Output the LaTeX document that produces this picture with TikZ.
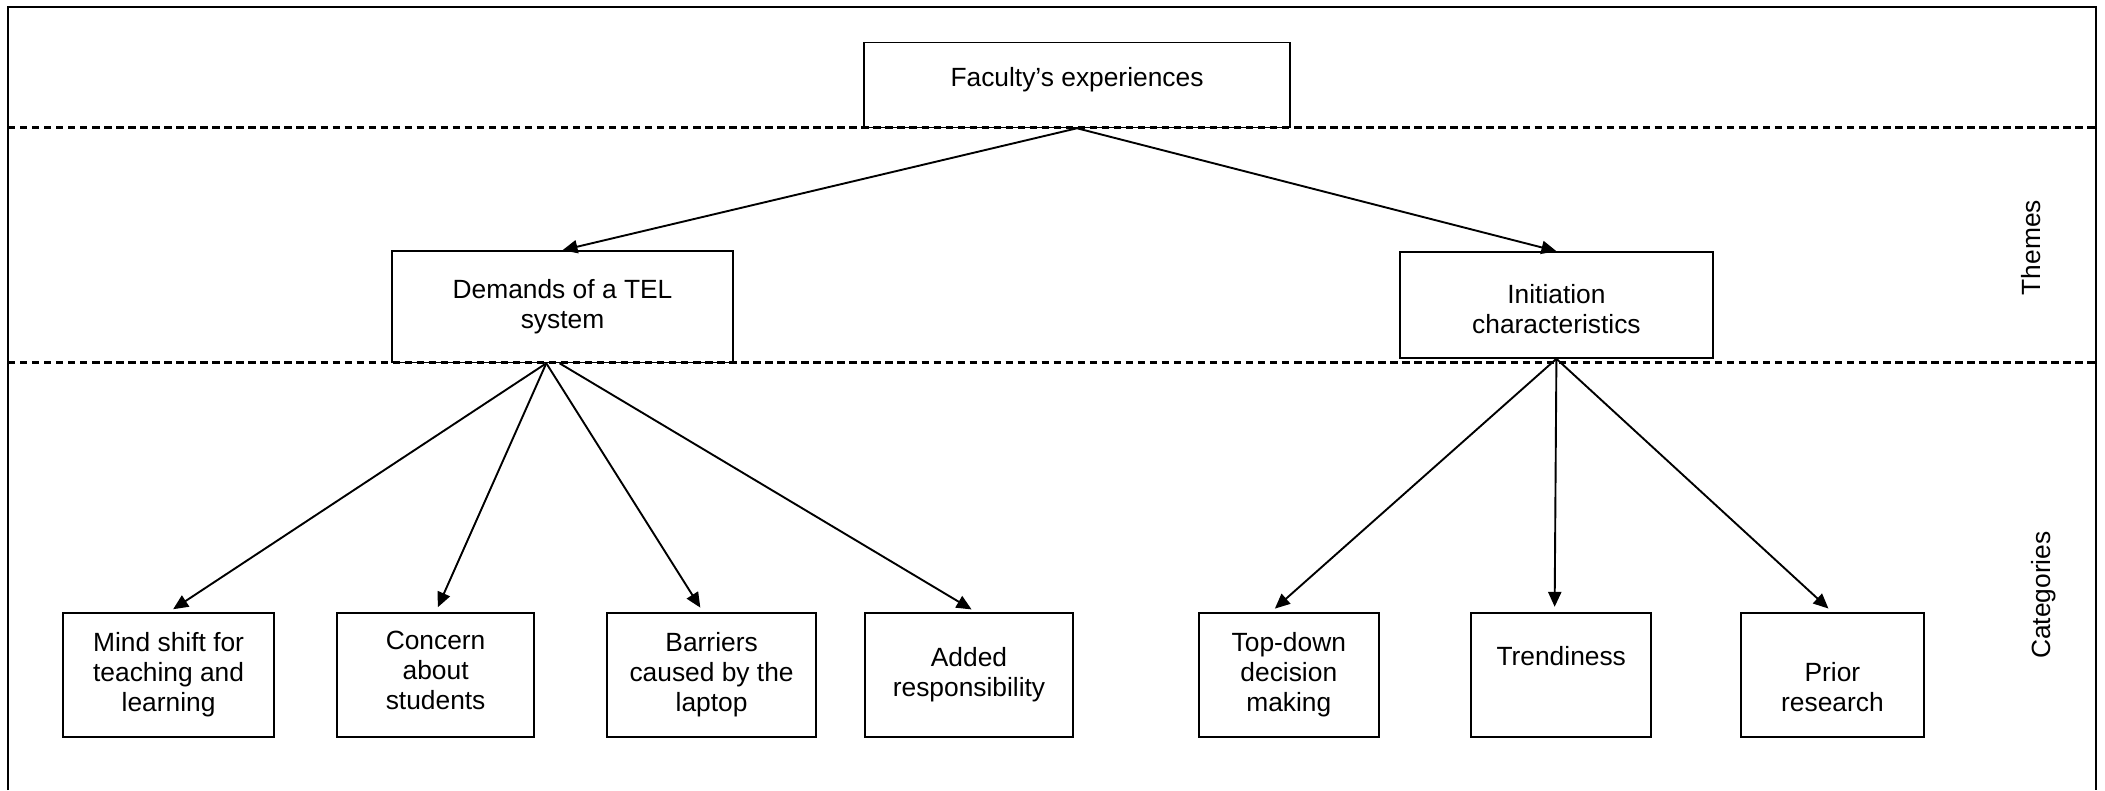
\documentclass[tikz,border=0pt]{standalone}
\usepackage{fontspec}
\setmainfont{Liberation Sans}
\usetikzlibrary{arrows.meta}
\tikzset{
    box/.style={draw, line width=0.75pt, align=center, inner sep=0pt, font=\fontsize{12.5}{14.2}\selectfont},
    link/.style={line width=0.9pt, -{Triangle[length=0.25cm, width=0.22cm]}},
    level/.style={line width=1pt, dash pattern=on 3.5pt off 2.2pt}
}
\begin{document}
\begin{tikzpicture}
        \useasboundingbox (0, 0) rectangle (35.083, -13.167);
        \draw[line width=1pt] (0.133, -13.167) |- (34.93, -0.117) -- (34.93, -13.167);
        \draw[level] (0.133, -2.125) -- (34.93, -2.125);
        \draw[level] (0.133, -6.042) -- (34.93, -6.042);
        % themes
        \node[box, minimum width=7.1cm, minimum height=1.413cm, text depth=0.27cm] (faculty) at (17.95, -1.418) {Faculty’s experiences};
        \node[box, minimum width=5.683cm, minimum height=1.858cm] (demands) at (9.375, -5.112) {Demands of a TEL\\system};
        \node[box, minimum width=5.217cm, minimum height=1.767cm, text height=0.95cm] (initiation) at (25.94, -5.083) {Initiation\\characteristics};
        % categories
        \node[box, minimum width=3.52cm, minimum height=2.067cm] (mindshift) at (2.81, -11.25) {Mind shift for\\teaching and\\learning};
        \node[box, minimum width=3.28cm, minimum height=2.067cm, text depth=0.15cm] (concern) at (7.26, -11.25) {Concern\\about\\students};
        \node[box, minimum width=3.48cm, minimum height=2.067cm] (barriers) at (11.86, -11.25) {Barriers\\caused by the\\laptop};
        \node[box, minimum width=3.47cm, minimum height=2.067cm] (added) at (16.15, -11.25) {Added\\responsibility};
        \node[box, minimum width=3.0cm, minimum height=2.067cm] (topdown) at (21.48, -11.25) {Top-down\\decision\\making};
        \node[box, minimum width=3.0cm, minimum height=2.067cm, text depth=0.13cm] (trendiness) at (26.02, -11.25) {Trendiness\\\phantom{T}};
        \node[box, minimum width=3.05cm, minimum height=2.067cm, text depth=0.08cm] (prior) at (30.54, -11.25) {\phantom{P}\\Prior\\research};
        % side labels
        \node[rotate=90, anchor=base, font=\fontsize{12.5}{14.2}\selectfont] (themes) at (34.0, -4.125) {Themes};
        \node[rotate=90, anchor=base, font=\fontsize{12.5}{14.2}\selectfont] (categories) at (34.18, -9.92) {Categories};
        % arrows
        \draw[link] (faculty.south) -- (demands.north);
        \draw[link] (faculty.south) -- (initiation.north);
        \draw[link, shorten >=0.09cm] ([xshift=-0.27cm]demands.south) -- (mindshift.north);
        \draw[link, shorten >=0.09cm] ([xshift=-0.27cm]demands.south) -- (concern.north);
        \draw[link, shorten >=0.09cm] ([xshift=-0.27cm]demands.south) -- ([xshift=-0.14cm]barriers.north);
        \draw[link, shorten >=0.09cm] ([xshift=-0.05cm]demands.south) -- ([xshift=0.12cm]added.north);
        \draw[link, shorten >=0.09cm] (initiation.south) -- ([xshift=-0.3cm]topdown.north);
        \draw[link, shorten >=0.09cm] (initiation.south) -- ([xshift=-0.11cm]trendiness.north);
        \draw[link, shorten >=0.09cm] (initiation.south) -- (prior.north);
    \end{tikzpicture}
\end{document}
